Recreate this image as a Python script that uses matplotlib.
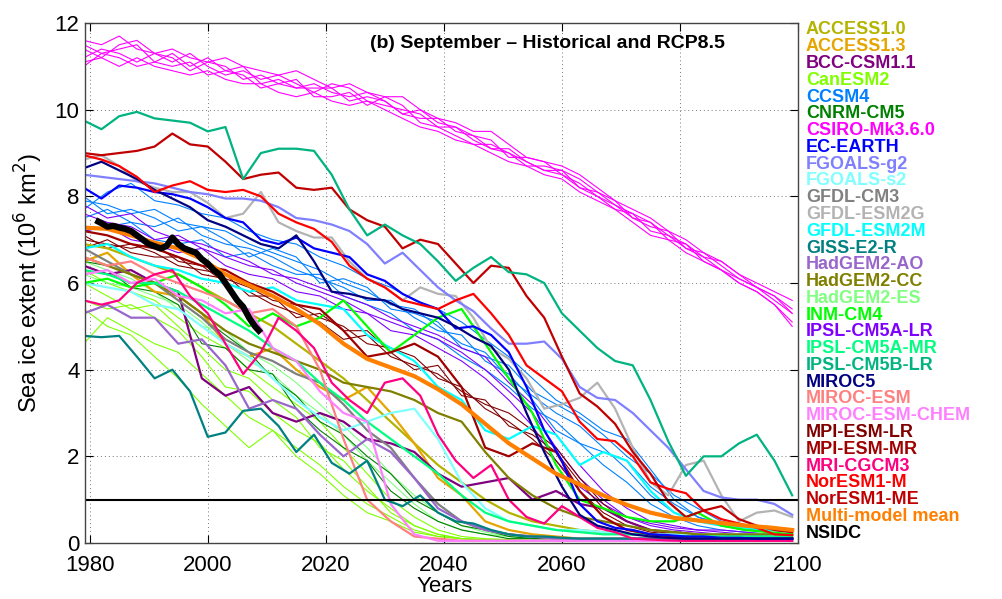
import matplotlib
matplotlib.use('Agg')
from matplotlib import pyplot as plt

plt.rcParams['font.family'] = 'Liberation Sans'

# two year grids: 3-year steps for the prominent lines, 4-year steps for the rest
YEARS_3 = list(range(1979, 2100, 3))
YEARS_4 = list(range(1979, 2100, 4))
NSIDC_YEARS = list(range(1981, 2010))

# ---- data (10^6 km^2) ----
access10 = [6.9, 6.8, 6.6, 6.4, 6.2, 5.9, 5.6, 5.3, 5.0, 4.6, 4.2, 3.8, 3.3, 2.8, 2.3, 1.8, 1.4, 1.0, 0.7, 0.5,
            0.4, 0.3, 0.25, 0.2, 0.2, 0.15, 0.15, 0.15, 0.1, 0.1, 0.1]
access13 = [6.5, 6.7, 6.2, 5.8, 5.7, 5.3, 4.6, 4.3, 4.5, 4.0, 3.6, 3.3, 3.6, 3.0, 2.3, 1.5, 1.1, 0.5, 0.3, 0.2,
            0.15, 0.1, 0.1, 0.1, 0.1, 0.1, 0.1, 0.1, 0.1, 0.1, 0.1]
bcc = [6.4, 6.2, 6.3, 6.0, 5.8, 3.8, 3.4, 3.6, 3.0, 2.8, 3.0, 2.8, 2.4, 2.3, 2.1, 1.6, 1.3, 1.4, 1.5, 1.0,
       1.2, 0.9, 0.8, 0.5, 0.3, 0.25, 0.2, 0.2, 0.15, 0.15, 0.1]
canesm2 = [
    [6.3, 6.0, 5.8, 5.6, 5.2, 4.8, 4.5, 4.0, 3.6, 3.2, 2.8, 2.2, 1.6, 1.0, 0.6, 0.3, 0.15, 0.1, 0.08, 0.06,
     0.05, 0.05, 0.05, 0.05, 0.05, 0.05, 0.05, 0.05, 0.05, 0.05, 0.05],
    [5.6, 5.4, 5.5, 5.2, 4.9, 4.3, 3.6, 3.5, 3.0, 2.6, 2.3, 1.7, 1.2, 0.8, 0.4, 0.2, 0.1, 0.08, 0.06, 0.05,
     0.05, 0.05, 0.05, 0.05, 0.05, 0.05, 0.05, 0.05, 0.05, 0.05, 0.05],
    [4.6, 5.2, 4.9, 4.6, 4.4, 3.9, 3.4, 2.9, 2.6, 2.2, 1.8, 1.3, 0.9, 0.6, 0.3, 0.15, 0.1, 0.06, 0.05, 0.05,
     0.05, 0.05, 0.05, 0.05, 0.05, 0.05, 0.05, 0.05, 0.05, 0.05, 0.05],
    [6.0, 5.7, 5.4, 5.5, 5.0, 4.5, 4.0, 3.8, 3.3, 2.9, 2.2, 1.9, 1.3, 0.7, 0.4, 0.2, 0.1, 0.08, 0.06, 0.05,
     0.05, 0.05, 0.05, 0.05, 0.05, 0.05, 0.05, 0.05, 0.05, 0.05, 0.05],
    [5.4, 5.0, 4.8, 4.3, 3.8, 3.2, 2.7, 2.2, 2.6, 2.0, 1.6, 1.1, 0.7, 0.5, 0.25, 0.15, 0.1, 0.06, 0.05, 0.05,
     0.05, 0.05, 0.05, 0.05, 0.05, 0.05, 0.05, 0.05, 0.05, 0.05, 0.05],
]
ccsm4 = [
    [7.9, 7.8, 7.6, 7.7, 7.4, 7.3, 7.2, 6.9, 6.7, 6.5, 6.3, 6.0, 5.8, 5.5, 5.4, 5.0, 4.6, 4.4, 3.8, 3.4,
     3.0, 2.7, 2.2, 1.7, 1.1, 0.7, 0.5, 0.4, 0.3, 0.3, 0.25],
    [7.5, 7.7, 7.4, 7.3, 7.5, 7.1, 6.9, 6.8, 6.6, 6.3, 6.1, 5.9, 5.6, 5.6, 5.2, 4.9, 4.8, 4.2, 3.9, 3.3,
     2.6, 2.3, 2.1, 1.9, 1.3, 0.9, 0.6, 0.45, 0.35, 0.3, 0.3],
    [7.2, 7.3, 7.4, 7.0, 6.9, 7.0, 6.6, 6.7, 6.4, 6.2, 6.2, 5.7, 5.5, 5.3, 4.9, 4.7, 4.3, 4.0, 3.6, 3.1,
     2.8, 2.3, 1.8, 1.4, 0.9, 0.6, 0.4, 0.3, 0.25, 0.2, 0.2],
    [8.0, 7.6, 7.7, 7.5, 7.2, 7.3, 7.0, 6.6, 6.8, 6.6, 6.0, 6.1, 5.9, 5.4, 5.3, 5.1, 4.5, 4.3, 4.1, 3.5,
     3.2, 2.9, 2.5, 2.0, 1.6, 1.1, 0.8, 0.5, 0.4, 0.35, 0.3],
    [7.7, 8.1, 8.3, 7.9, 7.8, 7.6, 7.5, 7.2, 7.0, 6.9, 6.6, 6.4, 6.1, 5.9, 5.6, 5.4, 5.1, 4.7, 4.3, 3.8,
     3.3, 3.0, 2.6, 2.4, 1.7, 1.0, 0.6, 0.4, 0.3, 0.3, 0.25],
]
cnrm = [
    [6.5, 6.4, 6.2, 6.0, 5.6, 5.2, 4.8, 4.4, 3.8, 3.4, 2.8, 2.5, 2.0, 1.6, 1.0, 0.7, 0.4, 0.3, 0.15, 0.1,
     0.1, 0.1, 0.1, 0.1, 0.1, 0.1, 0.1, 0.1, 0.1, 0.1, 0.1],
    [6.2, 6.3, 5.9, 5.8, 5.5, 4.6, 4.5, 4.0, 3.9, 3.1, 2.6, 2.2, 1.9, 1.2, 0.8, 0.5, 0.3, 0.2, 0.1, 0.1,
     0.1, 0.1, 0.1, 0.1, 0.1, 0.1, 0.1, 0.1, 0.1, 0.1, 0.1],
]
csiro = [
    [11.6, 11.5, 11.7, 11.4, 11.3, 11.4, 11.2, 11.1, 11.2, 11.0, 10.9, 10.8, 10.9, 10.7, 10.5, 10.6, 10.4, 10.3,
     10.3, 10.0, 9.8, 9.7, 9.5, 9.5, 9.2, 8.9, 8.8, 8.7, 8.5, 8.2, 7.9, 7.7, 7.5, 7.2, 7.0, 6.7, 6.5, 6.2, 6.0,
     5.8, 5.6],
    [11.1, 11.2, 11.0, 11.2, 11.0, 10.9, 10.8, 10.9, 10.7, 10.6, 10.6, 10.4, 10.3, 10.4, 10.2, 10.1, 10.2, 10.0,
     9.8, 9.6, 9.5, 9.3, 9.2, 9.0, 8.8, 8.7, 8.5, 8.4, 8.1, 7.9, 7.7, 7.4, 7.1, 7.0, 6.7, 6.5, 6.3, 6.0, 5.8,
     5.5, 5.1],
    [11.4, 11.2, 11.5, 11.6, 11.3, 11.1, 11.3, 11.0, 10.8, 10.9, 10.7, 10.8, 10.6, 10.4, 10.6, 10.5, 10.2, 10.1,
     10.0, 9.9, 9.6, 9.6, 9.3, 9.1, 9.1, 8.8, 8.6, 8.6, 8.4, 8.1, 7.8, 7.6, 7.4, 7.0, 6.9, 6.6, 6.3, 6.1, 5.9,
     5.6, 5.3],
    [11.2, 11.4, 11.3, 11.1, 11.3, 11.2, 10.9, 11.1, 11.0, 10.7, 10.8, 10.6, 10.5, 10.6, 10.4, 10.3, 10.4, 10.2,
     9.9, 9.8, 9.8, 9.5, 9.4, 9.3, 8.9, 8.9, 8.8, 8.5, 8.2, 8.1, 7.9, 7.5, 7.3, 7.2, 6.8, 6.6, 6.5, 6.2, 5.9,
     5.7, 5.4],
    [11.0, 11.3, 11.2, 11.0, 11.1, 11.0, 11.1, 10.8, 10.9, 10.8, 10.5, 10.6, 10.7, 10.3, 10.3, 10.4, 10.1, 10.3,
     10.1, 9.7, 9.6, 9.4, 9.2, 9.2, 9.0, 8.8, 8.6, 8.5, 8.3, 8.0, 7.7, 7.6, 7.2, 7.1, 6.9, 6.5, 6.3, 6.0, 5.8,
     5.5, 5.0],
    [11.5, 11.3, 11.4, 11.5, 11.1, 11.3, 11.0, 11.2, 10.9, 11.0, 10.6, 10.7, 10.5, 10.5, 10.5, 10.2, 10.3, 10.2,
     9.9, 10.0, 9.7, 9.6, 9.4, 9.1, 9.0, 8.7, 8.7, 8.6, 8.2, 8.0, 7.8, 7.5, 7.4, 7.1, 6.8, 6.7, 6.4, 6.1, 5.9,
     5.7, 5.3],
]
ec_earth = [8.2, 7.95, 8.25, 8.2, 8.1, 8.05, 7.95, 7.75, 7.5, 7.4, 7.0, 6.9, 7.05, 6.8, 6.7, 6.6, 6.2, 6.05,
            5.75, 5.55, 5.4, 4.95, 5.0, 4.8, 4.4, 3.6, 2.6, 1.9, 0.9, 0.5, 0.35, 0.3, 0.2, 0.18, 0.15, 0.15,
            0.12, 0.12, 0.1, 0.1, 0.1]
fgoals_g2 = [8.5, 8.45, 8.4, 8.35, 8.3, 8.2, 8.1, 8.05, 7.95, 7.95, 7.9, 7.75, 7.5, 7.45, 7.35, 7.2, 6.9, 6.45,
             6.7, 6.3, 5.9, 5.6, 5.35, 4.95, 4.6, 4.6, 4.65, 4.25, 3.6, 3.35, 3.3, 3.0, 2.6, 2.2, 1.7, 1.2,
             1.05, 1.0, 1.0, 0.9, 0.65]
fgoals_s2 = [6.0, 5.9, 5.8, 5.5, 5.4, 5.0, 4.6, 4.3, 3.8, 3.3, 2.9, 2.6, 2.8, 3.0, 3.1, 2.4, 1.4, 0.8, 0.5, 0.4,
             0.3, 0.3, 0.25, 0.2, 0.2, 0.2, 0.2, 0.2, 0.2, 0.2, 0.2]
gfdl_cm3 = [6.8, 6.5, 6.2, 6.0, 5.6, 5.2, 4.7, 4.4, 4.2, 3.9, 3.7, 3.2, 2.6, 2.2, 1.5, 0.9, 0.5, 0.3, 0.2, 0.15,
            0.1, 0.1, 0.1, 0.1, 0.1, 0.1, 0.1, 0.1, 0.1, 0.1, 0.1]
gfdl_esm2g = [8.85, 8.95, 8.7, 8.35, 8.2, 8.1, 8.1, 7.85, 7.5, 7.6, 8.1, 7.4, 7.2, 7.05, 7.05, 6.5, 6.1, 5.9,
              5.6, 5.9, 5.75, 5.7, 5.2, 4.5, 4.25, 3.8, 3.1, 3.2, 3.35, 3.7, 3.1, 2.2, 1.4, 1.1, 1.8, 1.9,
              1.1, 0.5, 0.7, 0.75, 0.6]
gfdl_esm2m = [6.8, 6.9, 6.6, 6.4, 6.3, 6.1, 6.0, 5.8, 5.9, 5.6, 5.5, 5.4, 4.8, 4.5, 4.2, 3.6, 3.3, 2.6, 2.4, 2.7,
              2.5, 1.8, 2.1, 1.9, 1.2, 0.7, 0.5, 0.4, 0.35, 0.3, 0.3]
giss = [4.78, 4.75, 4.78, 4.3, 3.8, 4.0, 3.5, 2.45, 2.55, 3.05, 3.1, 2.7, 2.1, 2.5, 1.85, 1.6, 1.9, 1.0, 0.85,
        1.1, 0.7, 0.5, 0.45, 0.3, 0.2, 0.15, 0.15, 0.12, 0.1, 0.1, 0.1, 0.1, 0.1, 0.1, 0.1, 0.1, 0.1, 0.1,
        0.1, 0.1, 0.1]
hadgem2_ao = [5.3, 5.5, 5.2, 5.2, 4.6, 4.7, 4.1, 3.1, 3.3, 3.1, 2.5, 2.0, 2.4, 2.1, 1.5, 0.8, 0.5, 0.3, 0.2, 0.15,
              0.1, 0.1, 0.1, 0.1, 0.1, 0.1, 0.1, 0.1, 0.1, 0.1, 0.1]
hadgem2_cc = [6.6, 6.4, 6.2, 6.0, 5.7, 5.3, 4.9, 4.6, 4.4, 4.2, 4.0, 3.7, 3.6, 3.5, 3.3, 3.0, 2.8, 2.1, 1.5, 1.1,
              0.8, 0.6, 0.5, 0.4, 0.3, 0.25, 0.2, 0.2, 0.2, 0.2, 0.2]
hadgem2_es = [
    [6.2, 6.0, 5.9, 5.7, 5.5, 5.1, 4.6, 4.2, 3.9, 3.4, 3.0, 2.5, 1.9, 1.4, 0.9, 0.5, 0.3, 0.2, 0.15, 0.1,
     0.1, 0.1, 0.1, 0.1, 0.1, 0.1, 0.1, 0.1, 0.1, 0.1, 0.1],
    [6.5, 6.3, 6.1, 5.8, 5.4, 5.0, 4.9, 4.4, 4.1, 3.7, 3.2, 2.7, 2.2, 1.6, 1.1, 0.7, 0.4, 0.25, 0.15, 0.1,
     0.1, 0.1, 0.1, 0.1, 0.1, 0.1, 0.1, 0.1, 0.1, 0.1, 0.1],
]
inm = [6.0, 6.1, 5.9, 6.0, 6.2, 5.9, 5.5, 5.0, 5.3, 5.0, 5.2, 5.6, 5.0, 4.4, 4.8, 5.2, 5.4, 4.6, 3.8, 3.0,
       1.8, 1.0, 0.8, 0.6, 0.5, 0.5, 0.7, 0.4, 0.3, 0.25, 0.2]
ipsl_a_lr = [
    [7.6, 7.4, 7.3, 7.0, 7.1, 6.8, 6.6, 6.4, 6.3, 6.0, 5.8, 5.6, 5.3, 5.1, 4.9, 4.7, 4.4, 4.0, 3.5, 3.0,
     2.2, 1.5, 1.0, 0.6, 0.4, 0.3, 0.25, 0.2, 0.2, 0.15, 0.15],
    [7.2, 7.3, 7.0, 6.9, 6.7, 6.8, 6.4, 6.2, 6.1, 5.8, 5.7, 5.4, 5.3, 4.9, 4.8, 4.5, 4.2, 3.8, 3.3, 2.7,
     1.9, 1.3, 0.9, 0.6, 0.45, 0.35, 0.3, 0.25, 0.2, 0.2, 0.15],
    [7.8, 7.5, 7.6, 7.2, 7.0, 6.9, 6.7, 6.5, 6.2, 6.1, 5.9, 5.7, 5.5, 5.2, 5.0, 4.8, 4.5, 4.3, 3.7, 3.2,
     2.5, 1.8, 1.2, 0.8, 0.5, 0.4, 0.3, 0.3, 0.25, 0.2, 0.2],
]
ipsl_a_mr = [6.3, 6.2, 6.0, 6.0, 5.8, 5.5, 5.2, 4.9, 4.5, 4.2, 3.7, 3.3, 2.8, 2.4, 2.0, 1.6, 1.1, 0.7, 0.5, 0.4,
             0.3, 0.25, 0.2, 0.2, 0.2, 0.15, 0.15, 0.15, 0.15, 0.15, 0.15]
ipsl_b_lr = [9.75, 9.55, 9.85, 9.95, 9.8, 9.75, 9.7, 9.5, 9.6, 8.4, 9.0, 9.1, 9.1, 9.05, 8.5, 7.7, 7.1, 7.35,
             7.1, 6.9, 6.5, 6.05, 6.35, 6.6, 6.25, 6.2, 6.0, 5.3, 4.9, 4.5, 4.2, 4.1, 3.3, 2.35, 1.55, 2.0,
             2.0, 2.3, 2.5, 1.9, 1.1]
miroc5 = [8.65, 8.8, 8.6, 8.4, 8.15, 7.95, 7.75, 7.45, 7.3, 7.1, 6.9, 6.8, 7.1, 6.5, 5.8, 5.75, 5.65, 5.6, 5.4,
          5.3, 5.2, 5.0, 4.75, 4.55, 4.0, 3.0, 2.1, 1.3, 0.65, 0.4, 0.3, 0.2, 0.15, 0.12, 0.1, 0.1, 0.1, 0.1,
          0.1, 0.1, 0.1]
miroc_esm = [6.6, 6.4, 6.5, 6.2, 6.0, 5.8, 5.6, 5.3, 5.4, 5.0, 4.0, 2.4, 1.0, 0.5, 0.15, 0.1, 0.05, 0.05, 0.05,
             0.05, 0.05, 0.05, 0.05, 0.05, 0.05, 0.05, 0.05, 0.05, 0.05, 0.05, 0.05]
miroc_esm_chem = [6.2, 6.3, 6.0, 6.1, 5.7, 5.6, 5.3, 5.4, 4.5, 4.2, 3.5, 3.0, 2.8, 0.9, 0.2, 0.05, 0.05, 0.05,
                  0.05, 0.05, 0.05, 0.05, 0.05, 0.05, 0.05, 0.05, 0.05, 0.05, 0.05, 0.05, 0.05]
mpi_lr = [
    [7.0, 6.9, 6.8, 6.9, 6.5, 6.4, 6.0, 5.8, 5.5, 5.3, 5.1, 4.7, 4.8, 4.3, 4.1, 3.9, 3.5, 3.2, 3.0, 2.6,
     2.2, 1.5, 0.9, 0.5, 0.3, 0.2, 0.15, 0.1, 0.1, 0.1, 0.1],
    [6.8, 7.0, 6.7, 6.6, 6.6, 6.2, 6.1, 5.9, 5.6, 5.5, 5.2, 5.0, 4.6, 4.5, 4.3, 3.8, 3.6, 3.1, 2.8, 2.4,
     1.9, 1.2, 0.7, 0.4, 0.25, 0.2, 0.15, 0.1, 0.1, 0.1, 0.1],
    [7.1, 6.8, 6.9, 6.7, 6.4, 6.3, 6.2, 5.7, 5.7, 5.2, 5.3, 4.9, 4.9, 4.4, 4.0, 4.1, 3.4, 3.3, 2.7, 2.5,
     2.1, 1.4, 0.8, 0.5, 0.3, 0.2, 0.15, 0.1, 0.1, 0.1, 0.1],
]
mpi_mr = [7.2, 7.1, 6.9, 6.8, 6.6, 6.4, 6.3, 6.0, 5.8, 5.5, 5.4, 4.9, 4.3, 4.4, 4.6, 4.3, 3.6, 2.2, 2.0, 2.3,
          2.1, 1.2, 0.6, 0.3, 0.2, 0.15, 0.1, 0.1, 0.1, 0.1, 0.1]
mri = [5.6, 5.5, 5.6, 6.0, 6.2, 6.3, 5.7, 5.3, 4.6, 3.9, 4.4, 5.2, 4.9, 4.5, 3.7, 3.3, 3.0, 3.7, 3.8, 3.4,
       2.5, 1.9, 1.5, 1.8, 1.0, 0.6, 0.45, 0.85, 0.6, 0.35, 0.25, 0.1, 0.08, 0.06, 0.05, 0.05, 0.05, 0.05,
       0.05, 0.05, 0.05]
noresm_m = [8.95, 8.85, 8.7, 8.45, 8.1, 8.25, 8.35, 8.15, 8.1, 8.15, 8.0, 7.6, 7.4, 7.25, 6.95, 6.4, 6.1, 5.9,
            5.6, 5.5, 5.4, 5.6, 5.75, 5.3, 4.8, 4.1, 3.8, 3.5, 2.8, 2.4, 2.35, 2.0, 1.4, 1.25, 1.15, 0.75,
            0.55, 0.45, 0.35, 0.2, 0.18]
noresm_me = [9.0, 8.95, 9.0, 9.05, 9.15, 9.45, 9.2, 9.15, 8.8, 8.4, 8.5, 8.55, 8.2, 8.15, 8.2, 7.7, 7.45, 7.3,
             6.8, 7.0, 6.9, 6.45, 6.0, 6.4, 6.35, 5.7, 5.2, 4.3, 3.45, 3.15, 2.75, 2.1, 1.6, 0.95, 0.6, 0.75,
             0.85, 0.55, 0.4, 0.3, 0.25]
mmm = [7.28, 7.25, 7.1, 6.93, 6.8, 6.55, 6.2, 5.95, 5.7, 5.4, 5.05, 4.6, 4.25, 4.05, 3.85, 3.55, 3.2, 2.75,
       2.3, 1.95, 1.6, 1.35, 1.1, 0.88, 0.7, 0.58, 0.52, 0.46, 0.4, 0.36, 0.3]
nsidc = [7.45, 7.38, 7.3, 7.32, 7.28, 7.25, 7.2, 7.1, 7.0, 6.9, 6.85, 6.8, 6.85, 7.05, 6.9, 6.8, 6.75, 6.7,
         6.55, 6.45, 6.3, 6.2, 6.0, 5.8, 5.6, 5.45, 5.2, 5.0, 4.85]

names = ['ACCESS1.0', 'ACCESS1.3', 'BCC-CSM1.1', 'CanESM2', 'CCSM4', 'CNRM-CM5', 'CSIRO-Mk3.6.0',
         'EC-EARTH', 'FGOALS-g2', 'FGOALS-s2', 'GFDL-CM3', 'GFDL-ESM2G', 'GFDL-ESM2M', 'GISS-E2-R',
         'HadGEM2-AO', 'HadGEM2-CC', 'HadGEM2-ES', 'INM-CM4', 'IPSL-CM5A-LR', 'IPSL-CM5A-MR',
         'IPSL-CM5B-LR', 'MIROC5', 'MIROC-ESM', 'MIROC-ESM-CHEM', 'MPI-ESM-LR', 'MPI-ESM-MR',
         'MRI-CGCM3', 'NorESM1-M', 'NorESM1-ME', 'Multi-model mean', 'NSIDC']
colors = ['#b3b300', '#e6a500', '#800080', '#80ff00', '#0080ff', '#008000', '#ff00ff',
          '#0000ff', '#8080ff', '#80ffff', '#808080', '#b3b3b3', '#00ffff', '#008080',
          '#9966cc', '#808000', '#80ff80', '#00ff00', '#8000ff', '#00ff80',
          '#00b380', '#000080', '#ff8080', '#ff80ff', '#800000', '#a00000',
          '#ff0080', '#ff0000', '#c00000', '#ff8000', '#000000']
col = dict(zip(names, colors))

fig = plt.figure(figsize=(10.03, 5.99), dpi=100)
ax = fig.add_axes([0.0847, 0.0935, 0.711, 0.868])

# ensemble members, thin
for runs, nm, yrs in [(csiro, 'CSIRO-Mk3.6.0', YEARS_3), (canesm2, 'CanESM2', YEARS_4),
                      (hadgem2_es, 'HadGEM2-ES', YEARS_4), (cnrm, 'CNRM-CM5', YEARS_4),
                      (ccsm4, 'CCSM4', YEARS_4), (ipsl_a_lr, 'IPSL-CM5A-LR', YEARS_4),
                      (mpi_lr, 'MPI-ESM-LR', YEARS_4)]:
    for r in runs:
        ax.plot(yrs, r, color=col[nm], lw=0.8)

# single-run / ensemble-mean lines, thicker
thick = [(access10, 'ACCESS1.0', YEARS_4), (access13, 'ACCESS1.3', YEARS_4), (bcc, 'BCC-CSM1.1', YEARS_4),
         (fgoals_s2, 'FGOALS-s2', YEARS_4), (gfdl_cm3, 'GFDL-CM3', YEARS_4),
         (gfdl_esm2m, 'GFDL-ESM2M', YEARS_4), (hadgem2_ao, 'HadGEM2-AO', YEARS_4),
         (hadgem2_cc, 'HadGEM2-CC', YEARS_4), (inm, 'INM-CM4', YEARS_4), (ipsl_a_mr, 'IPSL-CM5A-MR', YEARS_4),
         (miroc_esm, 'MIROC-ESM', YEARS_4), (miroc_esm_chem, 'MIROC-ESM-CHEM', YEARS_4),
         (mpi_mr, 'MPI-ESM-MR', YEARS_4), (giss, 'GISS-E2-R', YEARS_3), (mri, 'MRI-CGCM3', YEARS_3),
         (gfdl_esm2g, 'GFDL-ESM2G', YEARS_3), (fgoals_g2, 'FGOALS-g2', YEARS_3),
         (ec_earth, 'EC-EARTH', YEARS_3), (miroc5, 'MIROC5', YEARS_3), (noresm_m, 'NorESM1-M', YEARS_3),
         (noresm_me, 'NorESM1-ME', YEARS_3), (ipsl_b_lr, 'IPSL-CM5B-LR', YEARS_3)]
for vals, nm, yrs in thick:
    ax.plot(yrs, vals, color=col[nm], lw=1.6)

ax.axhline(1, color='k', lw=1.5)
ax.plot(YEARS_4, mmm, color=col['Multi-model mean'], lw=3)
ax.plot(NSIDC_YEARS, nsidc, color='k', lw=4.5, solid_capstyle='butt')

ax.set_xlim(1979.2, 2100)
ax.set_ylim(0, 12)
ax.set_xticks(range(1980, 2101, 20))
ax.set_yticks(range(0, 13, 2))
ax.grid(True, linestyle=(0, (1, 3)), color='#777777', linewidth=0.7)
ax.tick_params(direction='in', top=True, right=True, length=6, labelsize=16, colors='k')
ax.tick_params(axis='x', pad=8.5)
ax.tick_params(axis='y', pad=4)
for s in ax.spines.values():
    s.set_color('#444444')
    s.set_linewidth(1)

ax.set_xlabel('Years', fontsize=16)
ax.xaxis.set_label_coords(0.505, -0.064)
ax.set_ylabel('Sea ice extent (10$^6$ km$^2$)', fontsize=17)
ax.yaxis.set_label_coords(-0.056, 0.5)

ax.text(0.40, 0.9615, '(b) September \u2013 Historical and RCP8.5', transform=ax.transAxes,
        fontsize=14, fontweight='bold', ha='left', va='center')

# coloured model names to the right of the axes
for i, nm in enumerate(names):
    fig.text(0.8036, 1 - (30 + i * 16.77) / 599, nm, color=col[nm], fontsize=13,
             fontweight='bold', va='center', ha='left')

fig.savefig('out.png', dpi=100)
